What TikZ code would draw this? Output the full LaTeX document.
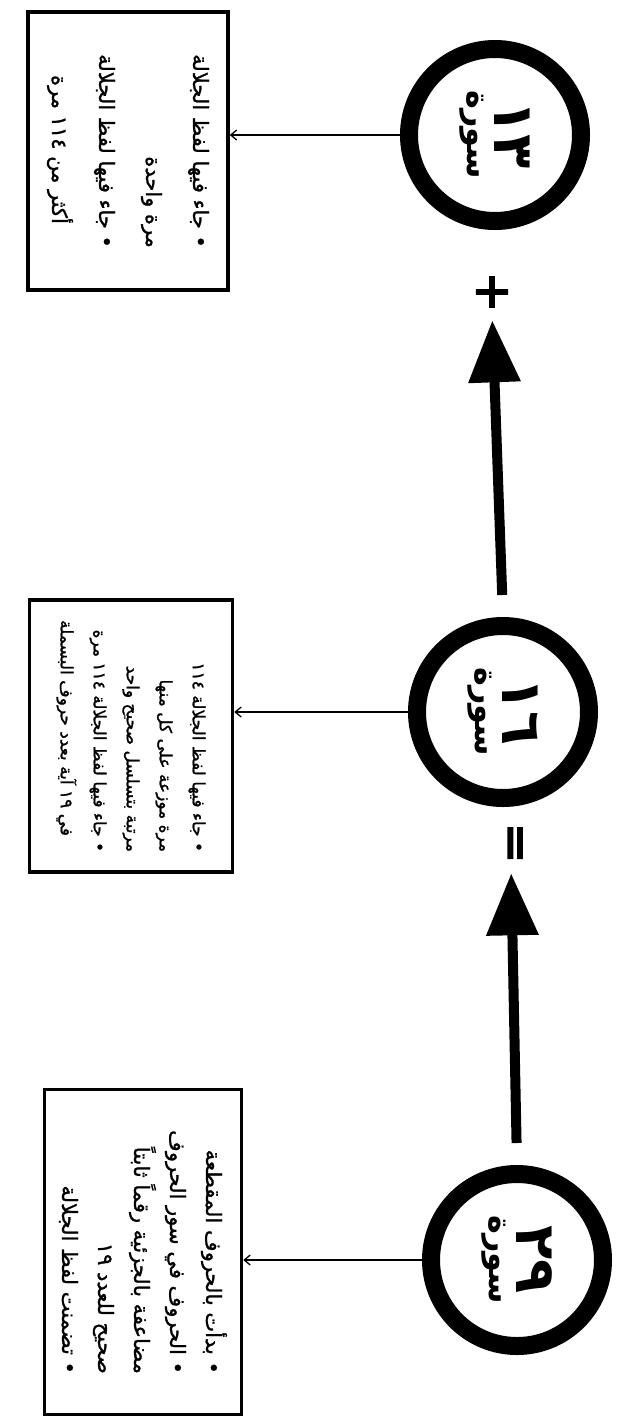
\documentclass[tikz,border=0pt]{standalone}
\usepackage{fontspec}
\TeXXeTstate=1
\newfontfamily\arabicfont[Script=Arabic]{DejaVu Sans}
\newfontfamily\handfont[Script=Arabic, FakeBold=1.2]{DejaVu Sans}
\newfontfamily\signfont[FakeBold=4]{DejaVu Sans}
\usetikzlibrary{arrows.meta,positioning}
\tikzset{
  surah/.style={circle, draw=black, line width=18pt, minimum size=172pt, inner sep=0pt, align=center, font=\arabicfont\bfseries},
  note/.style={draw=black, line width=3.5pt, fill=white, inner xsep=6pt, inner ysep=0pt, align=right},
  link/.style={-{Straight Barb[length=6pt,width=10pt]}, line width=1.3pt},
  push/.style={-{Triangle[length=62pt,width=50pt]}, line width=10pt},
  sign/.style={font=\signfont\fontsize{48}{48}\selectfont, inner sep=0pt},
}
\newcommand{\surahlabel}[1]{{\fontsize{56}{56}\selectfont #1}\\[10pt]{\fontsize{32}{32}\selectfont\beginR سورة\endR}}

\begin{document}
\begin{tikzpicture}[x=1pt, y=1pt]
 \begin{scope}[rotate=-90, transform shape]
  \useasboundingbox (0,0) rectangle (1419,620);

  % the three surah groups
  \node[surah] (c13) at (135,495) {\surahlabel{١٣}};
  \node[surah] (c16) at (712,503) {\surahlabel{١٦}};
  \node[surah] (c29) at (1260,517) {\surahlabel{٢٩}};

  \node[sign] (plus) at (292,492) {+};
  \node[sign] (eq) at (843,511) {=};

  % notes under each group
  \node[note, minimum width=278pt, minimum height=200pt,
        font=\handfont\fontsize{21}{47}\selectfont] (b13) at (151,128) {%
    \beginR • جاء فيها لفظ الجلالة\endR\\
    \beginR مرة واحدة\endR\hspace*{24pt}\\
    \beginR • جاء فيها لفظ الجلالة\endR\\
    \beginR أكثر من \beginL ١١٤\endL{} مرة\endR\hspace*{24pt}};
  \node[note, minimum width=272pt, minimum height=203pt,
        font=\handfont\fontsize{17}{33}\selectfont] (b16) at (736,131) {%
    \beginR • جاء فيها لفظ الجلالة \beginL ١١٤\endL\endR\\
    \beginR مرة موزعة على كل منها\endR\hspace*{16pt}\\
    \beginR مرتبة بتسلسل صحيح واحد\endR\hspace*{16pt}\\
    \beginR • جاء فيها لفظ الجلالة \beginL ١١٤\endL{} مرة\endR\\
    \beginR في \beginL ١٩\endL{} آية بعدد حروف البسملة\endR\hspace*{16pt}};
  \node[note, minimum width=325pt, minimum height=197pt,
        font=\handfont\fontsize{21}{36}\selectfont] (b29) at (1252,143) {%
    \beginR • بدأت بالحروف المقطعة\endR\\
    \beginR • الحروف في سور الحروف\endR\\
    \beginR مضاعفة بالجزئية رقماً ثابتاً\endR\hspace*{18pt}\\
    \beginR صحيح للعدد \beginL ١٩\endL\endR\hspace*{18pt}\\
    \beginR • تضمنت لفظ الجلالة\endR};

  % thin links from circle to note
  \draw[link] (c13.south) -- (c13.south |- b13.north);
  \draw[link] (c16.south) -- (c16.south |- b16.north);
  \draw[link] (c29.south) -- (c29.south |- b29.north);

  % heavy arrows
  \draw[push, shorten <=22pt, shorten >=10pt] (c29.west) -- (eq.east);
  \draw[push, shorten <=22pt, shorten >=8pt] (c16.west) -- (plus.east);
 \end{scope}
\end{tikzpicture}
\end{document}
